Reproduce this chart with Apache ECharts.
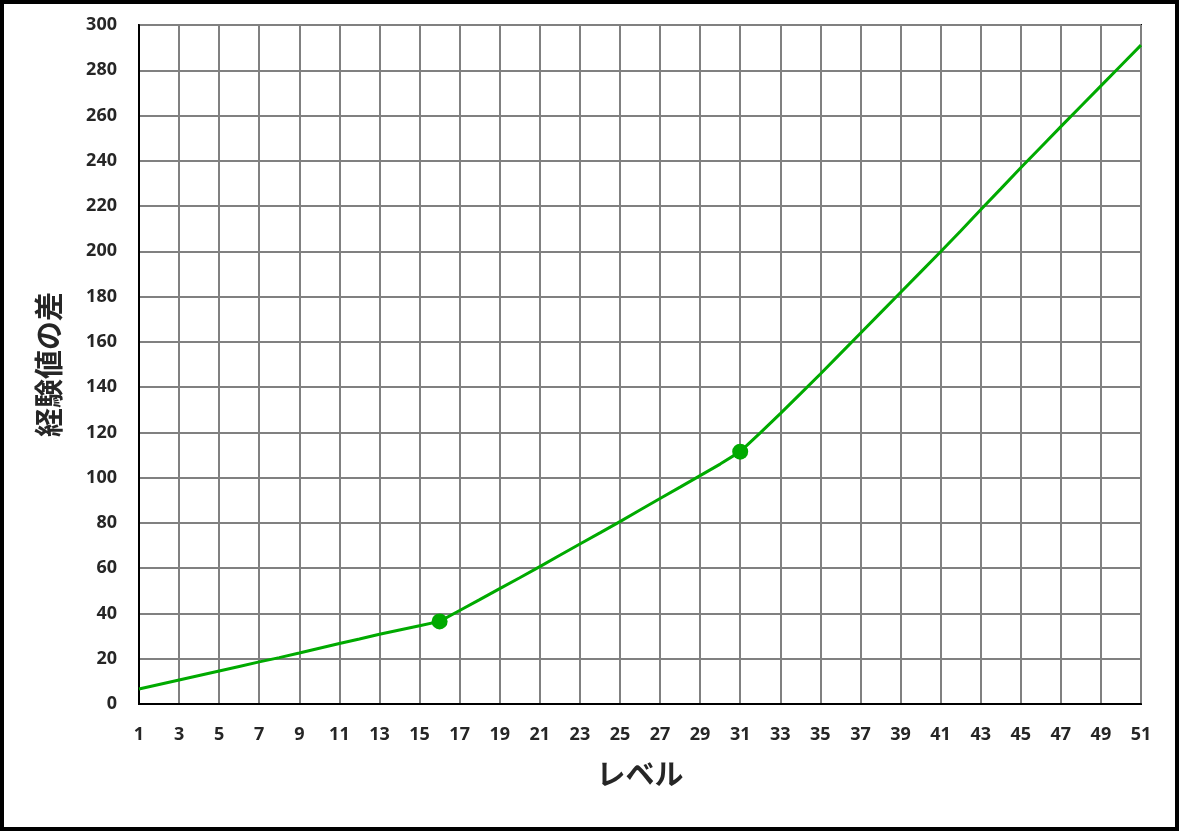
<!DOCTYPE html>
<html>
<head>
<meta charset="utf-8">
<title>経験値の差</title>
<script src="https://cdn.jsdelivr.net/npm/echarts@6/dist/echarts.min.js"></script>
<style>
  html, body { margin: 0; padding: 0; background: #fff; }
  #chart { width: 1179px; height: 831px; }
</style>
</head>
<body>
<div id="chart"></div>
<script>
// レベル 1〜51
const levels = [
  1, 2, 3, 4, 5, 6, 7, 8, 9, 10,
  11, 12, 13, 14, 15, 16, 17, 18, 19, 20,
  21, 22, 23, 24, 25, 26, 27, 28, 29, 30,
  31, 32, 33, 34, 35, 36, 37, 38, 39, 40,
  41, 42, 43, 44, 45, 46, 47, 48, 49, 50, 51
];

// 経験値の差
const expDiff = [
  6.6, 8.6, 10.6, 12.6, 14.6, 16.6, 18.6, 20.5, 22.5, 24.6,
  26.7, 28.7, 30.8, 32.7, 34.6, 36.5, 41.3, 46.1, 51.0, 55.8,
  60.7, 65.7, 70.7, 75.6, 80.6, 85.7, 90.8, 95.8, 100.9, 106.0,
  111.5, 119.8, 128.3, 137.0, 145.8, 154.8, 163.8, 172.8, 181.8, 190.8,
  199.8, 209.0, 218.4, 227.6, 236.9, 246.0, 255.1, 264.1, 273.1, 282.1, 291.1
];

// マーカーを付けるレベル
const markedLevels = [16, 31];

const green = '#00aa00';
const labelFont = '"Noto Sans", "Noto Sans CJK JP", sans-serif';

const chart = echarts.init(document.getElementById('chart'));

const seriesData = levels.map((lv, i) => {
  if (markedLevels.includes(lv)) {
    return { value: expDiff[i], symbol: 'circle', symbolSize: 16 };
  }
  return { value: expDiff[i], symbol: 'none' };
});

const option = {
  backgroundColor: '#fff',
  animation: false,
  graphic: [
    {
      type: 'rect',
      shape: { x: 2, y: 2, width: 1175, height: 827 },
      style: { fill: 'none', stroke: '#000', lineWidth: 4 },
      silent: true
    }
  ],
  grid: {
    left: 139,
    right: 38,
    top: 25,
    bottom: 127,
    show: true,
    borderColor: '#000',
    borderWidth: 2
  },
  xAxis: {
    type: 'category',
    data: levels,
    boundaryGap: false,
    name: 'レベル',
    nameLocation: 'middle',
    nameGap: 58,
    nameTextStyle: {
      fontSize: 29,
      fontWeight: 'bold',
      color: '#262626',
      fontFamily: labelFont
    },
    axisLine: { lineStyle: { color: '#000', width: 2 } },
    axisTick: { show: false },
    axisLabel: {
      interval: 1,
      margin: 22,
      fontSize: 18,
      fontWeight: 'bold',
      color: '#262626',
      fontFamily: labelFont
    },
    splitLine: {
      show: true,
      interval: (index) => index % 2 === 0,
      lineStyle: { color: '#808080', width: 2 }
    }
  },
  yAxis: {
    type: 'value',
    min: 0,
    max: 300,
    interval: 20,
    name: '経験値の差',
    nameLocation: 'middle',
    nameGap: 73,
    nameRotate: 90,
    nameTextStyle: {
      fontSize: 29,
      fontWeight: 'bold',
      color: '#262626',
      fontFamily: labelFont
    },
    axisLine: { show: true, lineStyle: { color: '#000', width: 2 } },
    axisTick: { show: false },
    axisLabel: {
      margin: 22,
      fontSize: 18,
      fontWeight: 'bold',
      color: '#262626',
      fontFamily: labelFont
    },
    splitLine: { lineStyle: { color: '#808080', width: 2 } }
  },
  series: [
    {
      name: '経験値の差',
      type: 'line',
      data: seriesData,
      showAllSymbol: true,
      lineStyle: { color: green, width: 3 },
      itemStyle: { color: green }
    }
  ]
};

chart.setOption(option);
</script>
</body>
</html>
